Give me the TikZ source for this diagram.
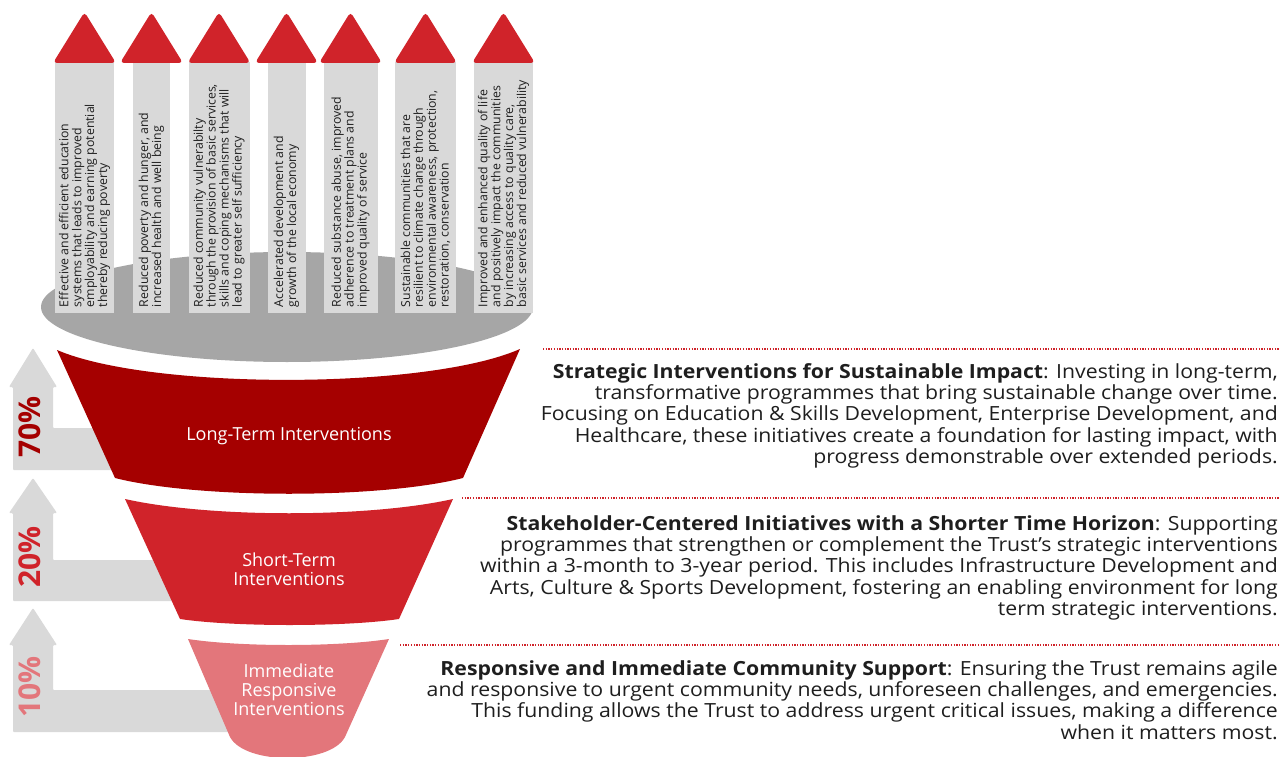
\documentclass[tikz,border=0pt]{standalone}
\usepackage{fontspec}
\setmainfont{Open Sans}
\newfontfamily\condfont[FakeStretch=1.09]{Open Sans}
\usetikzlibrary{positioning}
\definecolor{darkred}{HTML}{A50000}
\definecolor{midred}{HTML}{D0232A}
\definecolor{pinkred}{HTML}{E3767B}
\definecolor{lightgrey}{HTML}{D9D9D9}
\definecolor{discgrey}{HTML}{A6A6A6}
\definecolor{inkgrey}{HTML}{1E1E1E}

\begin{document}
\begin{tikzpicture}
    [x=1pt, y=-1pt,
     pillar/.style = {fill=lightgrey, inner sep=0, minimum height=251},
     ptext/.style = {rotate=90, anchor=west, align=left, inner sep=0, text=inkgrey,
                     font=\fontsize{12.3}{12.9}\selectfont},
     stage/.style = {text=white, align=center, inner sep=0, font=\fontsize{18}{18.8}\selectfont},
     pct/.style = {rotate=90, inner sep=0, font=\fontsize{30}{30}\selectfont\bfseries},
     desc/.style = {align=right, inner sep=0, text=inkgrey, font=\condfont\fontsize{19.5}{21.4}\selectfont},
     dotline/.style = {midred, line width=1.3pt, dash pattern=on 1.3pt off 1.4pt}]
\useasboundingbox (0,0) rectangle (1280,757);

% disc under the pillars
\fill[discgrey] (287,307) ellipse [x radius=246, y radius=55];

% outcome pillars
\foreach \cx/\w/\txt/\n in {
    84.5/59/{Effective and efficient education\\systems that leads to improved\\employability and earning potential\\thereby reducing poverty}/1,
    151.5/37/{Reduced poverty and hunger, and\\increased health and well being}/2,
    219/61/{Reduced community vulnerabilty\\through the provision of basic services,\\skills and coping mechanisms that will\\lead to greater self sufficiency}/3,
    286.5/38/{Accelerated development and\\growth of the local economy}/4,
    350.5/54/{Reduced substance abuse, improved\\adherence to treatment plans and\\improved quality of service}/5,
    425.5/61/{Sustainable communities that are\\resilient to climate change through\\environmental awareness, protection,\\restoration, conservation}/6,
    503.5/59/{Improved and enhanced quality of life\\and positively impact the communities\\by increasing access to quality care,\\basic services and reduced vulnerability}/7}
{
    \node[pillar, minimum width=\w] (pil\n) at (\cx,187.5) {};
    \fill[midred, rounded corners=4] (\cx-31.5,63) -- (\cx,12) -- (\cx+31.5,63) -- cycle;
    \node[ptext] (lbl\n) at ([yshift=6]pil\n.south) {\txt};
}

% share arrows on the left
\foreach \t/\h/\b/\e/\r in {348/387/428/470/140, 478/513/560/601/190, 608/645/690/732/250}
    \fill[lightgrey, rounded corners=1] (33,\t) -- (57,\h) -- (53,\h) -- (53,\b) -- (\r,\b)
        -- (\r,\e) -- (13,\e) -- (13,\h) -- (9,\h) -- cycle;

% funnel
\fill[darkred] (57,350) .. controls (150,390) and (427,390) .. (520,349) -- (463,478)
    .. controls (380,499) and (198,499) .. (115,478) -- cycle;
\fill[midred] (125,499) .. controls (210,518) and (368,518) .. (453,499) -- (399,619)
    .. controls (345,627) and (234,627) .. (180,619) -- cycle;
\fill[pinkred] (188,639) .. controls (240,647) and (337,647) .. (389,639) -- (345,737)
    .. controls (330,765) and (245,765) .. (230,737) -- cycle;

\node[stage] (long) at (289,436) {Long-Term Interventions};
\node[stage] (short) at (289,569) {Short-Term\\Interventions};
\node[stage] (now) at (289,690) {Immediate\\Responsive\\Interventions};

\node[pct, text=darkred] (p70) at (30,427) {70\%};
\node[pct, text=midred] (p20) at (30,557) {20\%};
\node[pct, text=pinkred] (p10) at (30,687) {10\%};

% descriptions
\coordinate (r1a) at (543,349);
\coordinate (r1b) at (1280,349);
\coordinate (r2a) at (462,498);
\coordinate (r2b) at (1280,498);
\coordinate (r3a) at (400,645);
\coordinate (r3b) at (1280,645);
\draw[dotline] (r1a) -- (r1b);
\draw[dotline] (r2a) -- (r2b);
\draw[dotline] (r3a) -- (r3b);

\node[desc] (d1) [below left = 14pt and 2pt of r1b]
    {\textbf{Strategic Interventions for Sustainable Impact}: Investing in long-term,\\
     transformative programmes that bring sustainable change over time.\\
     Focusing on Education \& Skills Development, Enterprise Development, and\\
     Healthcare, these initiatives create a foundation for lasting impact, with\\
     progress demonstrable over extended periods.};
\node[desc] (d2) [below left = 17pt and 2pt of r2b]
    {\textbf{Stakeholder-Centered Initiatives with a Shorter Time Horizon}: Supporting\\
     programmes that strengthen or complement the Trust’s strategic interventions\\
     within a 3-month to 3-year period. This includes Infrastructure Development and\\
     Arts, Culture \& Sports Development, fostering an enabling environment for long\\
     term strategic interventions.};
\node[desc] (d3) [below left = 15pt and 2pt of r3b]
    {\textbf{Responsive and Immediate Community Support}: Ensuring the Trust remains agile\\
     and responsive to urgent community needs, unforeseen challenges, and emergencies.\\
     This funding allows the Trust to address urgent critical issues, making a difference\\
     when it matters most.};
\end{tikzpicture}
\end{document}
